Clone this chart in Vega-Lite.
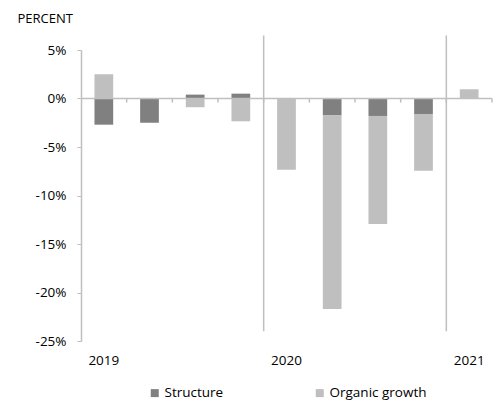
{
  "$schema": "https://vega.github.io/schema/vega-lite/v6.json",
  "autosize": "none",
  "width": 411,
  "height": 291,
  "padding": {"left": 81, "top": 50, "right": 8, "bottom": 62},
  "background": "white",
  "config": {
    "view": {"stroke": null},
    "font": "Open Sans",
    "axis": {"labelFont": "Open Sans", "titleFont": "Open Sans", "labelColor": "#000000", "titleColor": "#000000"},
    "legend": {"labelFont": "Open Sans"}
  },
  "datasets": {
    "bars": [
      {"q": "2019Q1", "series": "Structure", "ord": 1, "value": -2.7},
      {"q": "2019Q1", "series": "Organic growth", "ord": 2, "value": 2.5},
      {"q": "2019Q2", "series": "Structure", "ord": 1, "value": -2.5},
      {"q": "2019Q2", "series": "Organic growth", "ord": 2, "value": 0},
      {"q": "2019Q3", "series": "Structure", "ord": 1, "value": 0.4},
      {"q": "2019Q3", "series": "Organic growth", "ord": 2, "value": -0.9},
      {"q": "2019Q4", "series": "Structure", "ord": 1, "value": 0.5},
      {"q": "2019Q4", "series": "Organic growth", "ord": 2, "value": -2.35},
      {"q": "2020Q1", "series": "Structure", "ord": 1, "value": 0},
      {"q": "2020Q1", "series": "Organic growth", "ord": 2, "value": -7.35},
      {"q": "2020Q2", "series": "Structure", "ord": 1, "value": -1.75},
      {"q": "2020Q2", "series": "Organic growth", "ord": 2, "value": -19.95},
      {"q": "2020Q3", "series": "Structure", "ord": 1, "value": -1.8},
      {"q": "2020Q3", "series": "Organic growth", "ord": 2, "value": -11.15},
      {"q": "2020Q4", "series": "Structure", "ord": 1, "value": -1.6},
      {"q": "2020Q4", "series": "Organic growth", "ord": 2, "value": -5.85},
      {"q": "2021Q1", "series": "Structure", "ord": 1, "value": 0},
      {"q": "2021Q1", "series": "Organic growth", "ord": 2, "value": 0.95}
    ],
    "quarters": [
      {"q": "2019Q1"}, {"q": "2019Q2"}, {"q": "2019Q3"}, {"q": "2019Q4"},
      {"q": "2020Q1"}, {"q": "2020Q2"}, {"q": "2020Q3"}, {"q": "2020Q4"},
      {"q": "2021Q1"}
    ],
    "separators": [
      {"q": "2019Q4", "top": 6.5, "bottom": -24},
      {"q": "2020Q4", "top": 6.5, "bottom": -24}
    ]
  },
  "layer": [
    {
      "data": {"name": "bars"},
      "mark": {"type": "bar", "width": {"band": 0.41}},
      "encoding": {
        "x": {
          "field": "q", "type": "ordinal",
          "scale": {"type": "band", "paddingInner": 0, "paddingOuter": 0,
            "domain": ["2019Q1","2019Q2","2019Q3","2019Q4","2020Q1","2020Q2","2020Q3","2020Q4","2021Q1"]},
          "axis": {
            "orient": "bottom", "domain": false, "ticks": false, "title": null,
            "labelAngle": 0, "labelFontSize": 13.5, "labelPadding": 12,
            "labelExpr": "indexof(datum.value, 'Q1') >= 0 ? slice(datum.value, 0, 4) : ''"
          }
        },
        "y": {
          "field": "value", "type": "quantitative", "stack": "zero",
          "scale": {"domain": [-25, 5], "nice": false, "zero": false},
          "axis": {
            "values": [-25, -20, -15, -10, -5, 0, 5],
            "labelExpr": "datum.value + '%'",
            "grid": false,
            "domainColor": "#bfbfbf", "domainWidth": 1.5,
            "tickColor": "#bfbfbf", "tickSize": 4,
            "labelFontSize": 13.5, "labelPadding": 11,
            "title": "PERCENT", "titleAngle": 0, "titleAlign": "left",
            "titleBaseline": "middle", "titleX": -64, "titleY": -32,
            "titleFontSize": 13, "titleFontWeight": "normal"
          }
        },
        "color": {
          "field": "series", "type": "nominal",
          "scale": {"domain": ["Structure", "Organic growth"], "range": ["#808080", "#bfbfbf"]},
          "legend": {
            "title": null, "orient": "none", "direction": "horizontal",
            "legendX": 67, "legendY": 336,
            "symbolType": "square", "symbolSize": 64, "symbolStrokeWidth": 0,
            "labelFontSize": 13.5, "columnPadding": 89, "symbolOffset": 0, "labelOffset": 3,
            "labelColor": "#000000"
          }
        },
        "order": {"field": "ord", "type": "quantitative"}
      }
    },
    {
      "data": {"values": [{}]},
      "mark": {"type": "rule", "color": "#bfbfbf", "strokeWidth": 1.5},
      "encoding": {"y": {"datum": 0, "type": "quantitative"}}
    },
    {
      "data": {"name": "quarters"},
      "mark": {"type": "rule", "color": "#bfbfbf", "strokeWidth": 1.5},
      "encoding": {
        "x": {"field": "q", "type": "ordinal", "bandPosition": 1},
        "y": {"datum": 0, "type": "quantitative"},
        "y2": {"datum": -0.42}
      }
    },
    {
      "data": {"name": "separators"},
      "mark": {"type": "rule", "color": "#bfbfbf", "strokeWidth": 1.5, "clip": false},
      "encoding": {
        "x": {"field": "q", "type": "ordinal", "bandPosition": 1},
        "y": {"field": "top", "type": "quantitative"},
        "y2": {"field": "bottom"}
      }
    }
  ]
}
